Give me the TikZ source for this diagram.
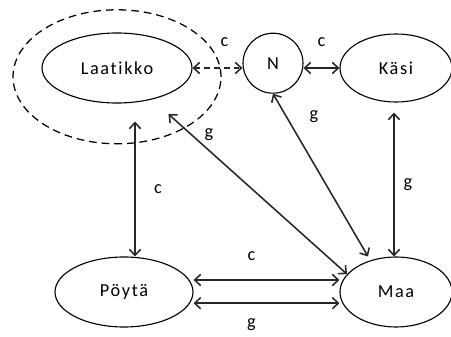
\documentclass[tikz,border=0pt]{standalone}
\usepackage{fontspec}
\setmainfont[LetterSpace=9, Ligatures={NoCommon}]{Carlito}
\usepackage{tikz}
\usetikzlibrary{shapes.geometric, arrows.meta}

\begin{document}
\begin{tikzpicture}[node distance=3.9cm, >={Straight Barb[length=1.5mm,width=2.8mm]},
    every node/.style={font=\fontsize{13}{15}\selectfont},
    olio/.style={draw, ellipse, line width=0.8pt, inner sep=0pt},
    nuoli/.style={<->, line width=1.1pt, draw=black!85},
    lbl/.style={inner sep=1pt}]
        \useasboundingbox (0,0) rectangle (11.275,8.425);
        \node[olio, minimum width=3.75cm, minimum height=1.75cm] at (2.925,6.725) (laatikko) {Laatikko};
        \node[draw, circle, line width=0.8pt, minimum size=1.5cm, inner sep=0pt, right of=laatikko, yshift=0.12cm] (n) {N};
        \node[olio, minimum width=2.8cm, minimum height=1.7cm, right of=n, xshift=-0.825cm, yshift=-0.12cm] (kasi) {Käsi};
        \node[olio, minimum width=3.45cm, minimum height=1.75cm, below of=laatikko, xshift=0.175cm, yshift=-1.7cm] (poyta) {Pöytä};
        \node[olio, minimum width=2.8cm, minimum height=1.75cm, below of=kasi, yshift=-1.7cm] (maa) {Maa};
        % dashed group round the box
        \node[draw, ellipse, dashed, dash pattern=on 5.5pt off 3.5pt, line width=0.9pt,
              minimum width=5.2cm, minimum height=3.35cm] at ([yshift=-0.22cm]laatikko.center) (ryhma) {};

        \draw[nuoli, dashed, dash pattern=on 4pt off 3pt] (laatikko.east) -- (laatikko.east -| n.west)
            node[lbl, midway, xshift=0.175cm, yshift=0.65cm] {c};
        \draw[nuoli] (kasi.west -| n.east) -- (kasi.west)
            node[lbl, midway, yshift=0.65cm] {c};
        \draw[nuoli] ([xshift=0.45cm, yshift=-0.45cm]laatikko.south) -- ([xshift=0.275cm]poyta.north)
            node[lbl, midway, xshift=0.575cm] {c};
        \draw[nuoli, shorten <=0.55cm] (laatikko) -- (maa.160)
            node[lbl, pos=0.25, xshift=0.2cm, yshift=0.22cm] {g};
        \draw[nuoli] (n.south) -- ([xshift=-0.7cm]maa.north)
            node[lbl, pos=0.2, xshift=0.55cm, yshift=0.25cm] {g};
        \draw[nuoli] ([xshift=-0.05cm, yshift=-0.25cm]kasi.south) -- ([xshift=-0.05cm]maa.north)
            node[lbl, midway, xshift=0.35cm] {g};
        \draw[nuoli] ([yshift=0.3cm]poyta.east) -- ([yshift=0.3cm]maa.west)
            node[lbl, midway, xshift=-0.375cm, yshift=0.6cm] {c};
        \draw[nuoli] ([yshift=-0.28cm]poyta.east) -- ([yshift=-0.28cm]maa.west)
            node[lbl, midway, xshift=-0.375cm, yshift=-0.525cm] {g};
    \end{tikzpicture}
\end{document}
